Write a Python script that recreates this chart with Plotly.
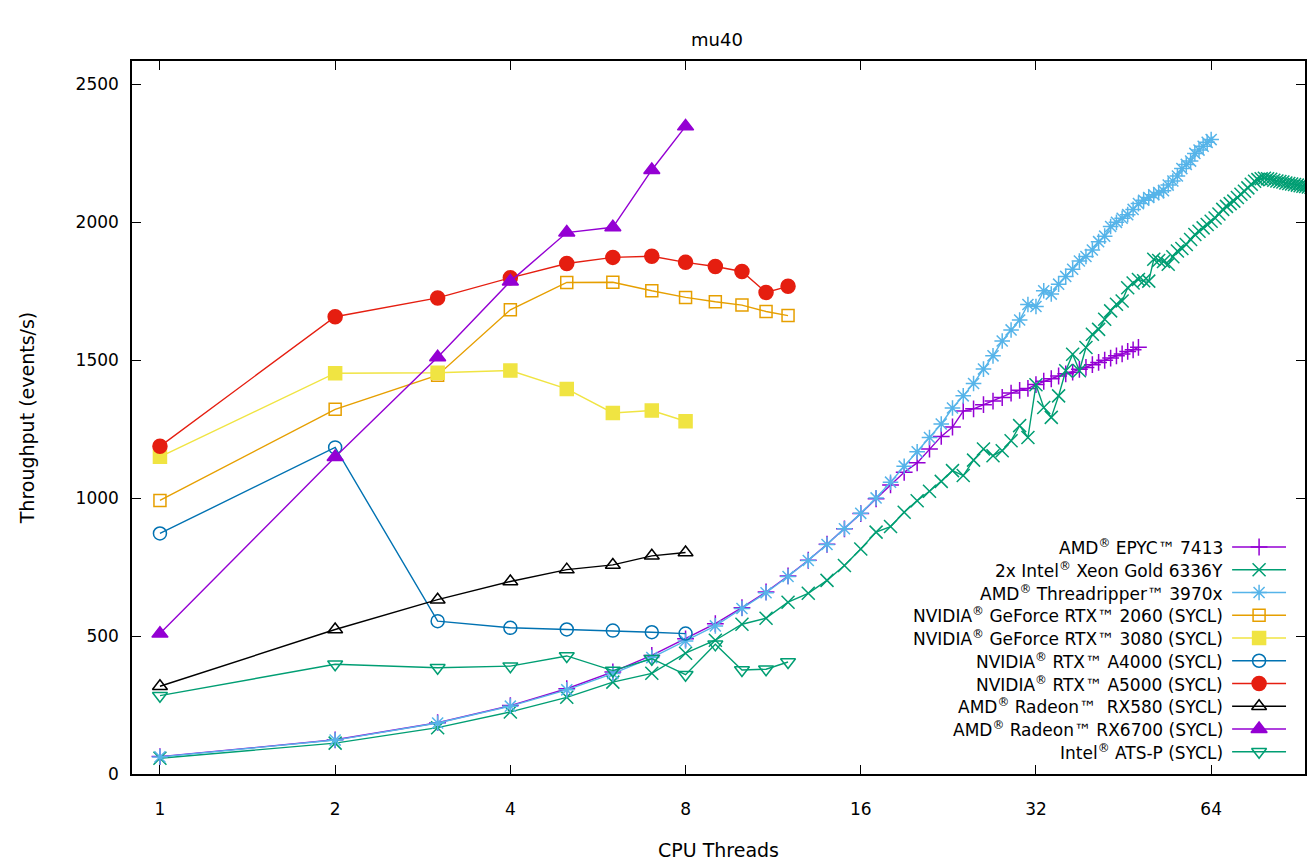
import math
import plotly.graph_objects as go

# ---------------- data ----------------
gpu_threads_12 = [1, 2, 3, 4, 5, 6, 7, 8, 9, 10, 11, 12]
gpu_threads_8 = [1, 2, 3, 4, 5, 6, 7, 8]

epyc_threads = list(range(1, 49))
epyc_7413 = [63, 124, 186, 248, 309, 370, 430, 490, 545, 603, 660, 718, 775, 833, 889, 944,
             998, 1048, 1094, 1128, 1178, 1224, 1258, 1316, 1324, 1339, 1352, 1365, 1381, 1391,
             1398, 1412, 1424, 1433, 1443, 1451, 1457, 1467, 1474, 1484, 1492, 1500, 1508, 1516,
             1523, 1532, 1538, 1547]

xeon_threads = list(range(1, 97))
xeon_6336y = [57, 112, 168, 225, 278, 333, 365, 438, 485, 543, 565, 623, 655, 702, 756, 816,
              877, 897, 949, 991, 1025, 1061, 1100, 1082, 1138, 1178, 1154, 1172, 1208, 1263,
              1220, 1411, 1329, 1293, 1371, 1462, 1522, 1462, 1546, 1594, 1612, 1649, 1679, 1703,
              1715, 1763, 1780, 1793, 1788, 1787, 1866, 1862, 1858, 1848, 1875, 1896, 1905, 1920,
              1938, 1956, 1968, 1980, 1992, 2004, 2016, 2030, 2047, 2058, 2068, 2077, 2090, 2102,
              2113, 2125, 2138, 2149, 2155, 2158, 2160, 2158, 2156, 2153, 2150, 2148, 2146, 2143,
              2141, 2139, 2137, 2135, 2133, 2131, 2130, 2128, 2127, 2125]

tr_threads = list(range(1, 65))
tr_3970x = [62, 123, 185, 246, 305, 364, 422, 482, 537, 600, 657, 716, 774, 832, 889, 945,
            1001, 1058, 1116, 1168, 1220, 1269, 1327, 1371, 1416, 1468, 1516, 1570, 1610, 1646,
            1702, 1695, 1752, 1740, 1776, 1804, 1830, 1860, 1876, 1900, 1930, 1950, 1985, 2000,
            2015, 2028, 2047, 2068, 2080, 2090, 2100, 2108, 2115, 2135, 2150, 2168, 2195, 2210,
            2222, 2250, 2262, 2276, 2290, 2300]

rtx2060 = [992, 1322, 1446, 1683, 1782, 1783, 1752, 1728, 1712, 1700, 1677, 1662]
rtx3080 = [1150, 1453, 1455, 1463, 1396, 1309, 1318, 1279]
rtx_a4000 = [872, 1184, 554, 530, 524, 520, 514, 509]
rtx_a5000 = [1188, 1658, 1726, 1799, 1851, 1873, 1877, 1855, 1840, 1822, 1746, 1768]
rx580 = [318, 524, 632, 698, 741, 758, 791, 803]
rx6700 = [509, 1149, 1511, 1786, 1963, 1982, 2190, 2348]
ats_p = [284, 398, 385, 391, 428, 375, 418, 360, 470, 377, 380, 406]

x_ticks = [1, 2, 4, 8, 16, 32, 64]
y_ticks = [0, 500, 1000, 1500, 2000, 2500]

# ---------------- style ----------------
FONT = "DejaVu Sans"
W, H = 1307, 864
ML, MR, MT, MB = 132, 0, 61, 90

series = [
    ("AMD<sup>®</sup> EPYC™ 7413", epyc_threads, epyc_7413, "#9400d3", "cross-thin-open", 12),
    ("2x Intel<sup>®</sup> Xeon Gold 6336Y", xeon_threads, xeon_6336y, "#009e73", "x-thin-open", 13),
    ("AMD<sup>®</sup> Threadripper™ 3970x", tr_threads, tr_3970x, "#56b4e9", "asterisk-open", 13),
    ("NVIDIA<sup>®</sup> GeForce RTX™ 2060 (SYCL)", gpu_threads_12, rtx2060, "#e69f00", "square-open", 12),
    ("NVIDIA<sup>®</sup> GeForce RTX™ 3080 (SYCL)", gpu_threads_8, rtx3080, "#f0e442", "square", 13),
    ("NVIDIA<sup>®</sup> RTX™ A4000 (SYCL)", gpu_threads_8, rtx_a4000, "#0072b2", "circle-open", 13),
    ("NVIDIA<sup>®</sup> RTX™ A5000 (SYCL)", gpu_threads_12, rtx_a5000, "#e51e10", "circle", 14),
    ("AMD<sup>®</sup> Radeon™  RX580 (SYCL)", gpu_threads_8, rx580, "#000000", "triangle-up-open", 13),
    ("AMD<sup>®</sup> Radeon™ RX6700 (SYCL)", gpu_threads_8, rx6700, "#9400d3", "triangle-up", 14),
    ("Intel<sup>®</sup> ATS-P (SYCL)", gpu_threads_12, ats_p, "#009e73", "triangle-down-open", 13),
]

fig = go.Figure()

for name, xs, ys, col, sym, sz in series:
    fig.add_trace(go.Scatter(
        x=xs, y=ys, mode="lines+markers", name=name, showlegend=False,
        line=dict(color=col, width=1.4),
        marker=dict(symbol=sym, size=sz, color=col, line=dict(color=col, width=1.5)),
    ))

# custom gnuplot-style key (text left, sample right) on an overlay axis in plot fractions
plot_w = W - ML - MR
plot_h = H - MT - MB
key_text_right = 1227
key_line_x0, key_line_x1 = 1234, 1288
key_row0, key_row_dy = 547, 22.75

def fx(px):
    return (px - ML) / plot_w

def fy(py):
    return (H - MB - py) / plot_h

for i, (name, xs, ys, col, sym, sz) in enumerate(series):
    ry = key_row0 + i * key_row_dy
    fig.add_trace(go.Scatter(
        x=[fx(key_line_x0), fx(key_line_x1)], y=[fy(ry)] * 2,
        xaxis="x2", yaxis="y2", mode="lines", showlegend=False, hoverinfo="skip",
        line=dict(color=col, width=1.4),
    ))
    fig.add_trace(go.Scatter(
        x=[fx((key_line_x0 + key_line_x1) / 2)], y=[fy(ry)],
        xaxis="x2", yaxis="y2", mode="markers", showlegend=False, hoverinfo="skip",
        marker=dict(symbol=sym, size=sz, color=col, line=dict(color=col, width=1.5)),
    ))
    fig.add_annotation(
        x=fx(key_text_right), y=fy(ry), xref="paper", yref="paper",
        text=name, showarrow=False, xanchor="right", yanchor="middle",
        font=dict(family=FONT, size=17, color="#000000"),
    )

x_left = 2 ** ((ML - 160) / 175.5)
x_right = 2 ** ((W - MR - 160) / 175.5)

fig.update_layout(
    width=W, height=H,
    margin=dict(l=ML, r=MR, t=MT, b=MB),
    paper_bgcolor="white", plot_bgcolor="white",
    font=dict(family=FONT, size=17, color="#000000"),
    title=dict(text="mu40", x=(718 - ML) / plot_w, xref="paper", xanchor="center",
               y=1 - 40 / H, yref="container", yanchor="middle",
               font=dict(family=FONT, size=18)),
    xaxis=dict(
        type="log", range=[math.log10(x_left), math.log10(x_right)],
        tickvals=x_ticks, ticktext=[str(v) for v in x_ticks],
        ticks="inside", ticklen=9, tickwidth=1.2, tickcolor="#000000",
        showline=True, linecolor="#000000", linewidth=1.5, mirror="ticks",
        showgrid=False, zeroline=False, ticklabelstandoff=19,
        title=dict(text="CPU Threads", standoff=26, font=dict(size=19)),
        tickfont=dict(size=17),
    ),
    yaxis=dict(
        range=[0, 2585], tickvals=y_ticks,
        ticks="inside", ticklen=9, tickwidth=1.2, tickcolor="#000000",
        showline=True, linecolor="#000000", linewidth=1.5, mirror="ticks",
        showgrid=False, zeroline=False, ticklabelstandoff=8,
        title=dict(text="Throughput (events/s)", standoff=36, font=dict(size=19)),
        tickfont=dict(size=17),
    ),
    xaxis2=dict(overlaying="x", range=[0, 1], visible=False, anchor="y2"),
    yaxis2=dict(overlaying="y", range=[0, 1], visible=False, anchor="x2"),
)

fig.write_html(
    "out.html",
    config={"displayModeBar": False},
    post_script="document.body.style.margin='0';document.body.style.overflow='hidden';",
)
